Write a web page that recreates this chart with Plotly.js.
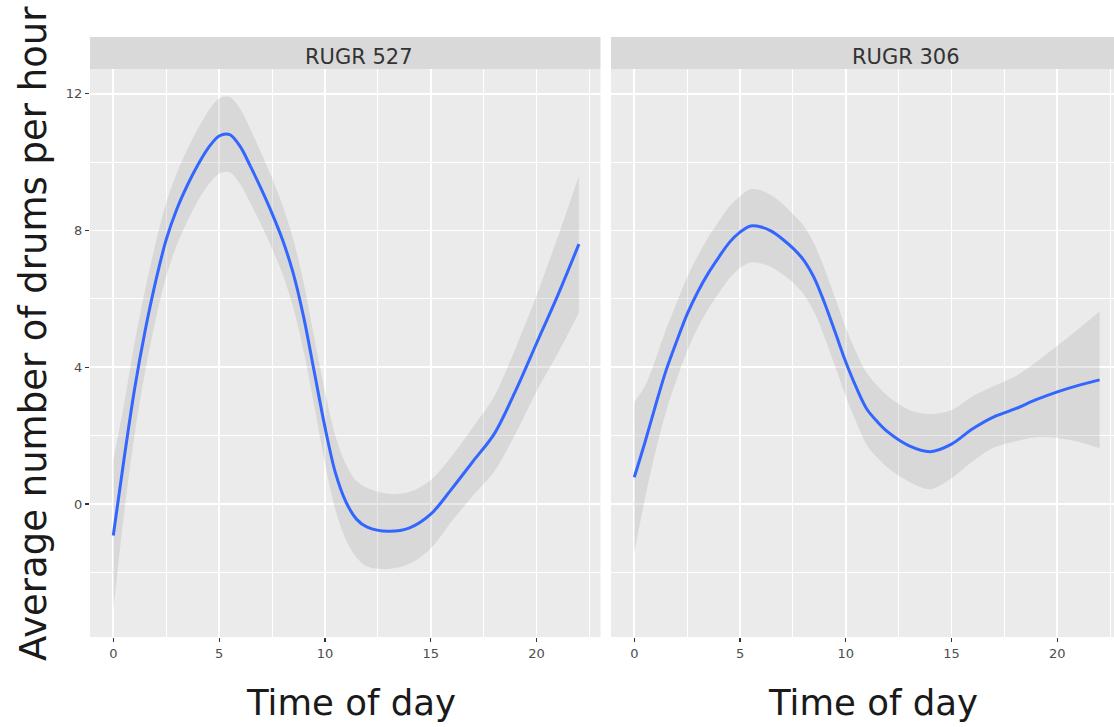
<!DOCTYPE html>
<html>
<head>
<meta charset="utf-8">
<script src="https://cdn.plot.ly/plotly-3.0.1.min.js"></script>
<style>
  html, body { margin: 0; padding: 0; background: #ffffff; }
  #chart { width: 1114px; height: 727px; }
</style>
</head>
<body>
<div id="chart"></div>
<script>
// ---- data ----
const hours = [0, 0.5, 1, 1.5, 2, 2.5, 3, 3.5, 4, 4.5, 5, 5.5, 6, 6.5, 7, 7.5, 8, 8.5, 9, 9.5, 10, 10.5, 11, 11.5, 12,
               13, 14, 15, 16, 17, 18, 19, 20, 21, 22];

const panelNames = ["RUGR 527", "RUGR 306"];

// RUGR 527
const fit527   = [-0.92, 1.28, 3.34, 5.05, 6.5, 7.73, 8.62, 9.32, 9.92, 10.42, 10.76, 10.8, 10.45, 9.85, 9.2, 8.5, 7.72, 6.75, 5.45, 3.85, 2.25, 0.9, 0.05, -0.45, -0.68,
                  -0.8, -0.7, -0.3, 0.45, 1.25, 2.05, 3.3, 4.7, 6.1, 7.6];
const lower527 = [-3.12, -0.32, 1.99, 3.85, 5.38, 6.65, 7.57, 8.27, 8.87, 9.34, 9.66, 9.7, 9.35, 8.77, 8.15, 7.47, 6.72, 5.75, 4.45, 2.85, 1.2, -0.18, -1.05, -1.57, -1.83,
                  -1.9, -1.75, -1.3, -0.5, 0.25, 0.95, 2.05, 3.3, 4.4, 5.6];
const upper527 = [1.28, 2.88, 4.69, 6.25, 7.62, 8.81, 9.67, 10.37, 10.97, 11.5, 11.86, 11.9, 11.55, 10.93, 10.25, 9.53, 8.72, 7.75, 6.45, 4.85, 3.3, 1.98, 1.15, 0.67, 0.47,
                  0.3, 0.35, 0.7, 1.4, 2.25, 3.15, 4.55, 6.1, 7.8, 9.6];

// RUGR 306
const fit306   = [0.78, 1.79, 2.87, 3.9, 4.75, 5.55, 6.2, 6.75, 7.22, 7.65, 7.95, 8.13, 8.1, 7.97, 7.75, 7.48, 7.14, 6.62, 5.87, 5.02, 4.15, 3.4, 2.77, 2.4, 2.1,
                  1.7, 1.53, 1.75, 2.2, 2.55, 2.78, 3.05, 3.28, 3.47, 3.63];
const lower306 = [-1.42, 0.14, 1.52, 2.7, 3.63, 4.47, 5.15, 5.7, 6.17, 6.6, 6.9, 7.06, 7.03, 6.92, 6.72, 6.48, 6.14, 5.62, 4.87, 4.02, 3.15, 2.38, 1.72, 1.35, 1.05,
                  0.65, 0.43, 0.75, 1.25, 1.65, 1.83, 1.95, 1.93, 1.82, 1.63];
const upper306 = [2.98, 3.44, 4.22, 5.1, 5.87, 6.63, 7.25, 7.8, 8.27, 8.7, 9.0, 9.2, 9.17, 9.02, 8.78, 8.48, 8.14, 7.62, 6.87, 6.02, 5.15, 4.42, 3.82, 3.45, 3.15,
                  2.75, 2.63, 2.75, 3.15, 3.45, 3.73, 4.15, 4.63, 5.12, 5.63];

const xTicks = [0, 5, 10, 15, 20];
const yTicks = [0, 4, 8, 12];

const yTitle = "Average number of drums per hour";
const xTitle = "Time of day";

// ---- styling ----
const W = 1114, H = 727;
const FONT = "DejaVu Sans, Verdana, sans-serif";
const panelBg = "#EBEBEB";
const ribbonFill = "rgba(150,150,150,0.22)";
const lineColor = "#3366FF";

const px = v => v / W;
const py = v => 1 - v / H;

const plotTop = 69, plotBottom = 637;
const stripTop = 37;
const leftDom = [px(90), px(600.5)];
const rightDom = [px(611), 1];

function ribbon(xa, ya, lo, hi) {
  return [
    { x: hours, y: lo, xaxis: xa, yaxis: ya, mode: "lines", type: "scatter",
      line: { width: 0, shape: "spline", smoothing: 0.9 }, hoverinfo: "skip", showlegend: false },
    { x: hours, y: hi, xaxis: xa, yaxis: ya, mode: "lines", type: "scatter",
      fill: "tonexty", fillcolor: ribbonFill,
      line: { width: 0, shape: "spline", smoothing: 0.9 }, hoverinfo: "skip", showlegend: false }
  ];
}
function fitLine(xa, ya, f) {
  return { x: hours, y: f, xaxis: xa, yaxis: ya, mode: "lines", type: "scatter",
    line: { color: lineColor, width: 3, shape: "spline", smoothing: 0.9 }, showlegend: false };
}

const traces = [
  ...ribbon("x", "y", lower527, upper527), fitLine("x", "y", fit527),
  ...ribbon("x2", "y2", lower306, upper306), fitLine("x2", "y2", fit306)
];

function xAxis(domain, range, anchor) {
  return {
    domain: domain, range: range, anchor: anchor,
    tickmode: "array", tickvals: xTicks, ticktext: xTicks.map(String),
    ticks: "outside", ticklen: 4, tickwidth: 1.2, tickcolor: "#333333",
    tickfont: { family: FONT, size: 13, color: "#4d4d4d" },
    showgrid: true, gridcolor: "#FFFFFF", gridwidth: 1.8,
    minor: { dtick: 2.5, tick0: 0, showgrid: true, gridcolor: "#FFFFFF", gridwidth: 1, ticks: "" },
    zeroline: false, showline: false, fixedrange: true
  };
}
function yAxis(range, anchor, showLabels) {
  return {
    domain: [py(plotBottom), py(plotTop)], range: range, anchor: anchor,
    tickmode: "array", tickvals: yTicks, ticktext: yTicks.map(String),
    showticklabels: showLabels,
    ticks: showLabels ? "outside" : "", ticklen: 4, tickwidth: 1.2, tickcolor: "#333333",
    tickfont: { family: FONT, size: 13, color: "#4d4d4d" },
    showgrid: true, gridcolor: "#FFFFFF", gridwidth: 1.8,
    minor: { dtick: 2, tick0: 0, showgrid: true, gridcolor: "#FFFFFF", gridwidth: 1, ticks: "" },
    zeroline: false, showline: false, fixedrange: true
  };
}

const yRange = [-3.89, 12.72];

const layout = {
  width: W, height: H,
  margin: { l: 0, r: 0, t: 0, b: 0 },
  paper_bgcolor: "#FFFFFF",
  plot_bgcolor: panelBg,
  showlegend: false,
  font: { family: FONT },
  xaxis: xAxis(leftDom, [-1.1, 23.02], "y"),
  yaxis: yAxis(yRange, "x", true),
  xaxis2: xAxis(rightDom, [-1.1, 22.68], "y2"),
  yaxis2: yAxis(yRange, "x2", false),
  shapes: [
    { type: "rect", xref: "paper", yref: "paper",
      x0: leftDom[0], x1: leftDom[1], y0: py(plotTop), y1: py(stripTop),
      fillcolor: "#D9D9D9", line: { width: 0 } },
    { type: "rect", xref: "paper", yref: "paper",
      x0: rightDom[0], x1: rightDom[1], y0: py(plotTop), y1: py(stripTop),
      fillcolor: "#D9D9D9", line: { width: 0 } }
  ],
  annotations: [
    { text: panelNames[0], xref: "paper", yref: "paper", x: px(359), y: py(57),
      xanchor: "center", yanchor: "middle", showarrow: false,
      font: { family: FONT, size: 21, color: "#333333" } },
    { text: panelNames[1], xref: "paper", yref: "paper", x: px(906), y: py(57),
      xanchor: "center", yanchor: "middle", showarrow: false,
      font: { family: FONT, size: 21, color: "#333333" } },
    { text: xTitle, xref: "paper", yref: "paper", x: px(351), y: py(702),
      xanchor: "center", yanchor: "middle", showarrow: false,
      font: { family: FONT, size: 35.5, color: "#1a1a1a" } },
    { text: xTitle, xref: "paper", yref: "paper", x: px(873), y: py(702),
      xanchor: "center", yanchor: "middle", showarrow: false,
      font: { family: FONT, size: 35.5, color: "#1a1a1a" } },
    { text: yTitle, xref: "paper", yref: "paper", x: px(33), y: py(334),
      xanchor: "center", yanchor: "middle", textangle: -90, showarrow: false,
      font: { family: FONT, size: 37, color: "#1a1a1a" } }
  ]
};

Plotly.newPlot("chart", traces, layout, { staticPlot: true, displayModeBar: false });
</script>
</body>
</html>
